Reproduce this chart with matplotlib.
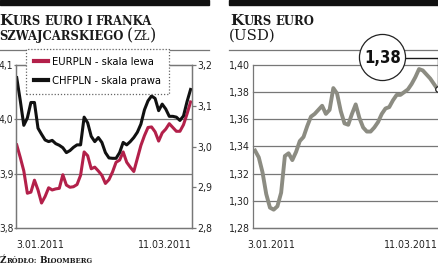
import itertools
import matplotlib
matplotlib.use('Agg')
import matplotlib.pyplot as plt
from matplotlib.lines import Line2D
from matplotlib.patches import Rectangle
from matplotlib.font_manager import FontProperties

# EURPLN (skala lewa) i CHFPLN (skala prawa), 3.01.2011 - 11.03.2011
eurpln = [3.953, 3.930, 3.905, 3.864, 3.866, 3.888, 3.870, 3.846, 3.858, 3.874,
          3.870, 3.872, 3.873, 3.898, 3.879, 3.875, 3.876, 3.880, 3.897, 3.940,
          3.933, 3.909, 3.912, 3.905, 3.897, 3.882, 3.889, 3.903, 3.921, 3.925,
          3.940, 3.921, 3.912, 3.904, 3.928, 3.952, 3.970, 3.985, 3.986, 3.977,
          3.960, 3.975, 3.982, 3.992, 3.985, 3.978, 3.978, 3.990, 4.010, 4.032]
chfpln = [3.169, 3.113, 3.052, 3.070, 3.108, 3.108, 3.045, 3.030, 3.016, 3.012,
          3.015, 3.007, 3.003, 2.997, 2.985, 2.990, 2.998, 3.004, 3.004, 3.072,
          3.058, 3.025, 3.012, 3.022, 3.010, 2.985, 2.972, 2.971, 2.971, 2.985,
          3.010, 3.004, 3.012, 3.022, 3.035, 3.055, 3.090, 3.112, 3.124, 3.118,
          3.088, 3.104, 3.092, 3.074, 3.074, 3.072, 3.064, 3.075, 3.110, 3.140]
# EURUSD
eurusd = [1.337, 1.332, 1.321, 1.305, 1.295, 1.2935, 1.296, 1.306, 1.333, 1.335,
          1.330, 1.336, 1.344, 1.347, 1.355, 1.362, 1.364, 1.367, 1.370, 1.364,
          1.367, 1.383, 1.379, 1.366, 1.357, 1.356, 1.364, 1.371, 1.361, 1.354,
          1.351, 1.351, 1.354, 1.358, 1.364, 1.368, 1.369, 1.374, 1.378, 1.378,
          1.380, 1.382, 1.386, 1.391, 1.397, 1.396, 1.393, 1.390, 1.386, 1.382]
dates = ['3.01.2011', '11.03.2011']
left_ticks = [3.8, 3.9, 4.0, 4.1]
right_ticks = [2.8, 2.9, 3.0, 3.1, 3.2]
usd_ticks = [1.28, 1.30, 1.32, 1.34, 1.36, 1.38, 1.40]

RED = '#b3204a'
GREY_LINE = '#8c8c82'
AXC = '#777777'
W, H = 439, 268

tickfont = FontProperties(family='DejaVu Sans', stretch='condensed', size=7.6)
lefttick = FontProperties(family='DejaVu Sans', stretch='condensed', size=7.3)

fig = plt.figure(figsize=(W / 100, H / 100), dpi=100)
renderer = fig.canvas.get_renderer()


def px(x, y):
    return x / W, 1 - y / H


def comma(v, n):
    return f'{v:.{n}f}'.replace('.', ',')


def smallcaps(x, y, text, big, small, weight='bold', space=0.3):
    fx, fy = px(x, y)
    for word in text.split(' '):
        for isbig, chars in itertools.groupby(word, key=lambda c: c.isupper() or c in '()'):
            t = fig.text(fx, fy, ''.join(chars).upper(), fontsize=big if isbig else small,
                         fontweight=weight, family='DejaVu Serif', va='baseline',
                         ha='left', color='#1a1a1a')
            fx += t.get_window_extent(renderer).width / W
        fx += space * small / 72 * 100 / W
    return fx * W


# black bars and separator lines
for x0, x1 in [(0, 209), (229, 439)]:
    fig.add_artist(Rectangle(px(x0, 5), (x1 - x0) / W, 5 / H, color='#111', zorder=-1))
    fig.add_artist(Line2D([x0 / W, x1 / W], [1 - 50 / H] * 2, color=AXC, lw=0.9, zorder=-1))

# titles
smallcaps(-1, 25, 'Kurs euro i franka', 11, 8.4)
xe = smallcaps(-1, 40, 'szwajcarskiego', 11, 8.4)
smallcaps(xe, 40, '(zł)', 11.5, 8.6, weight='normal')
smallcaps(230, 25, 'Kurs euro', 11, 8.4)
fig.text(*px(229, 40), '(USD)', fontsize=10.8, family='DejaVu Serif', va='baseline', color='#1a1a1a')
smallcaps(0, 263, 'Źródło: Bloomberg', 6.4, 4.9, space=0.35)

# left panel
x = list(range(len(eurpln)))
ax1 = fig.add_axes([16 / W, 1 - 228 / H, 176 / W, 163 / H])
ax2 = ax1.twinx()
l1, = ax1.plot(x, eurpln, color=RED, lw=2.2, solid_joinstyle='round')
l2, = ax2.plot(x, chfpln, color='#111', lw=2.2, solid_joinstyle='round')
ax1.set_xlim(-0.2, 49.4)
ax1.set_ylim(3.8, 4.1)
ax2.set_ylim(2.8, 3.2)
ax1.set_yticks(left_ticks, [comma(v, 1) for v in left_ticks], fontproperties=lefttick)
ax2.set_yticks(right_ticks, [comma(v, 1) for v in right_ticks], fontproperties=tickfont)
for v in left_ticks[1:3]:
    ax1.axhline(v, color=AXC, lw=0.9, zorder=1)
ax1.set_xticks([0, 49.4], dates, fontproperties=tickfont)
lbl = ax1.get_xticklabels()
lbl[0].set_ha('left')
lbl[1].set_ha('right')
ax1.tick_params(axis='x', length=0, pad=9, colors='#222')
ax1.tick_params(axis='y', length=1.5, width=0.9, color=AXC, pad=0.3, labelcolor='#222')
ax2.tick_params(axis='y', length=3, width=0.9, color=AXC, pad=1, labelcolor='#222')
for a in (ax1, ax2):
    for s in a.spines.values():
        s.set_color(AXC)
        s.set_linewidth(0.9)

leg = ax2.legend([l1, l2], ['EURPLN - skala lewa', 'CHFPLN - skala prawa'],
                 loc='upper left', bbox_to_anchor=px(26, 49), bbox_transform=fig.transFigure,
                 fancybox=False, framealpha=1, edgecolor='#666', borderaxespad=0,
                 handlelength=1.3, handletextpad=0.35, borderpad=0.7, labelspacing=0.85,
                 prop=FontProperties(family='DejaVu Sans', stretch='condensed', size=8))
leg.get_frame().set_linestyle((0, (1, 1.5)))
leg.get_frame().set_linewidth(0.9)
for h in leg.legend_handles:
    h.set_linewidth(3)

# right panel
ax3 = fig.add_axes([253 / W, 1 - 228 / H, 186 / W, 163 / H])
ax3.plot(x, eurusd, color=GREY_LINE, lw=2.8, solid_joinstyle='round')
ax3.set_xlim(-0.55, 49.35)
ax3.set_ylim(1.28, 1.40)
ax3.set_yticks(usd_ticks, [comma(v, 2) for v in usd_ticks], fontproperties=tickfont)
for v in usd_ticks:
    ax3.axhline(v, color=AXC, lw=0.9, zorder=1, clip_on=False)
ax3.set_xticks([4.4, 49], dates, fontproperties=tickfont)
ax3.get_xticklabels()[1].set_ha('right')
ax3.tick_params(axis='x', length=0, pad=9, colors='#222')
ax3.tick_params(axis='y', length=0, pad=2, colors='#222')
for k in ('top', 'right'):
    ax3.spines[k].set_visible(False)
for s in ax3.spines.values():
    s.set_color(AXC)
    s.set_linewidth(0.9)

# last value: leader line, circle label, marker (figure level, drawn over the axes)
end = fig.transFigure.inverted().transform(ax3.transData.transform((x[-1], eurusd[-1])))
lab = px(382.5, 57.5)
fig.add_artist(Line2D([lab[0], end[0]], [lab[1], lab[1]], color='#1a1a1a', lw=1.0, zorder=1))
fig.add_artist(Line2D([end[0], end[0]], [lab[1], end[1]], color='#1a1a1a', lw=1.0, zorder=1))
fig.text(lab[0], lab[1], comma(eurusd[-1], 2), ha='center', va='center', fontsize=12,
         fontweight='bold', fontstretch='condensed', color='#111', zorder=2,
         bbox=dict(boxstyle='circle,pad=0.28', fc='white', ec='#222', lw=0.9))
fig.add_artist(Line2D([end[0]], [end[1]], marker='o', ms=4, mfc='white', mec='#222',
                      mew=0.9, zorder=3))

fig.savefig('out.png', dpi=100)
